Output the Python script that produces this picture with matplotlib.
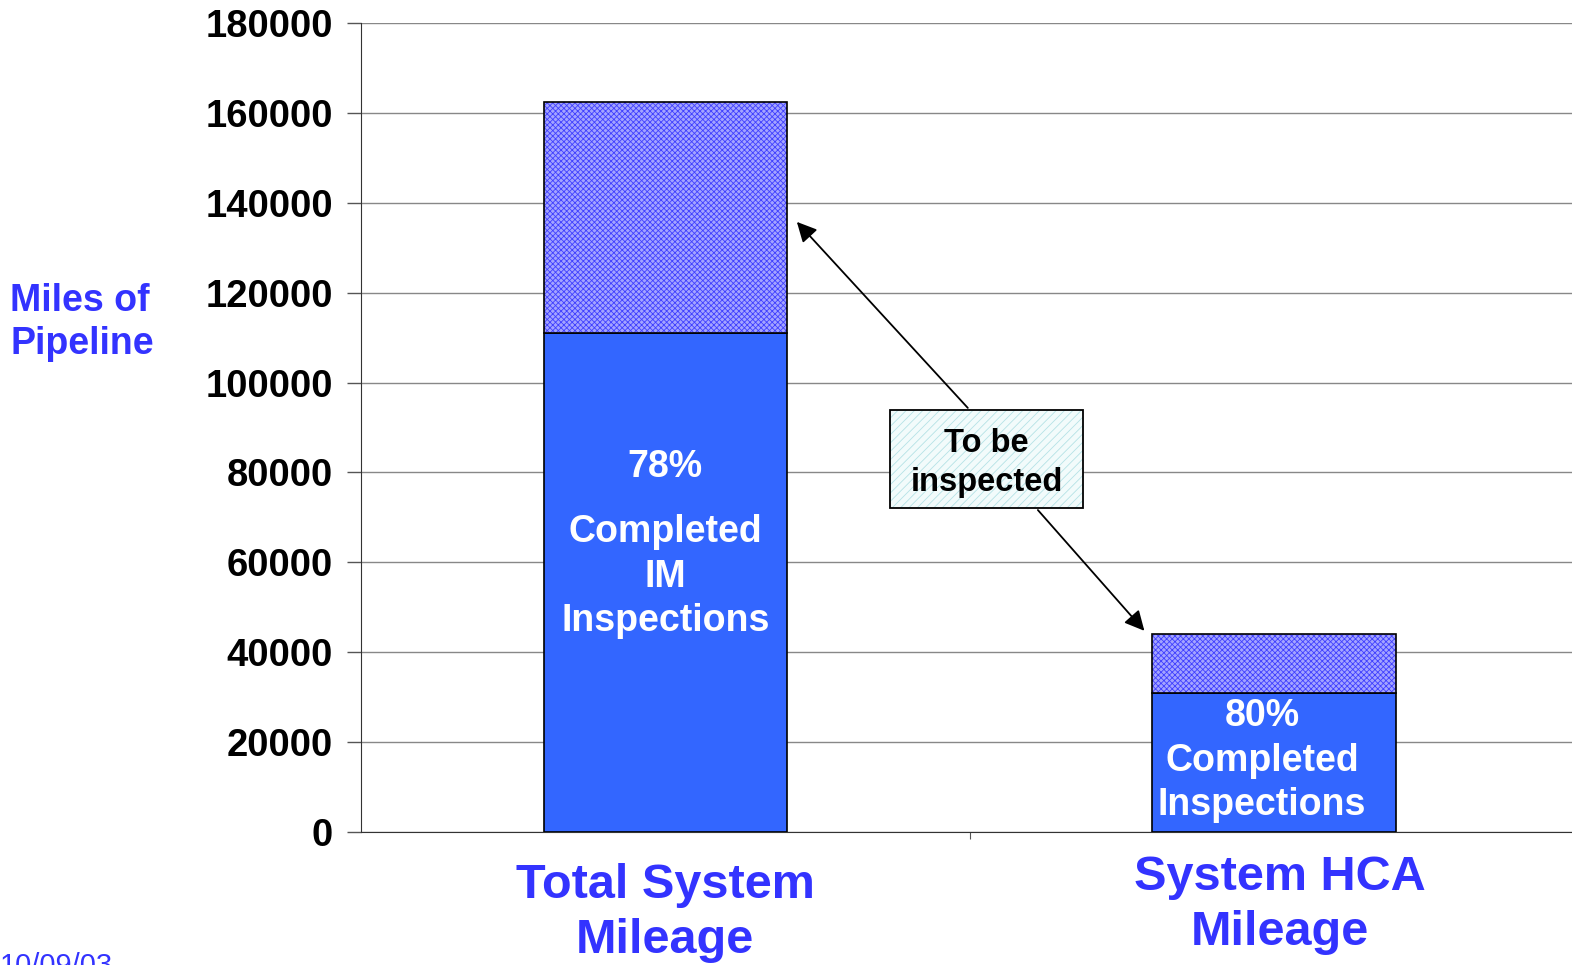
import matplotlib.pyplot as plt
import matplotlib.transforms as mtransforms
from matplotlib.patches import Rectangle

plt.rcParams['font.family'] = ['Liberation Sans', 'DejaVu Sans']
plt.rcParams['hatch.linewidth'] = 0.6

# data
categories = ['Total System\nMileage', 'System HCA\nMileage']
completed = [111000, 31000]
to_inspect = [51500, 13000]
pct_labels = ['78%', '80%']
inside_labels = ['Completed\nIM\nInspections', 'Completed\nInspections']
yticks = [0, 20000, 40000, 60000, 80000, 100000, 120000, 140000, 160000, 180000]

blue = '#3366FF'
txt_blue = '#3333FF'

fig = plt.figure(figsize=(15.72, 9.65), dpi=100)
ax = fig.add_axes([0.2296, 0.1378, 0.7745, 0.8384])

x = [0, 1]
ax.bar(x, completed, width=0.4, color=blue, edgecolor='black', linewidth=1.2, zorder=3)
ax.bar(x, to_inspect, width=0.4, bottom=completed, color='#a4a4ff', edgecolor='#4040ff',
       hatch='xxxxxx', linewidth=0, zorder=3)
ax.bar(x, to_inspect, width=0.4, bottom=completed, fill=False, edgecolor='black',
       linewidth=1.2, zorder=4)

ax.set_xlim(-0.5, 1.5)
ax.set_ylim(0, 180000)
ax.set_yticks(yticks)
ax.set_yticklabels([str(v) for v in yticks], fontsize=27.5, fontweight='bold')
ax.tick_params(axis='y', direction='out', length=10, width=1, pad=10, color='#555555')
ax.set_xticks([0.5])
ax.set_xticklabels([''])
ax.tick_params(axis='x', direction='out', length=5, color='#555555')
ax.yaxis.grid(True, color='#888888', linewidth=1, zorder=0)
ax.set_axisbelow(True)
for s in ['top', 'right']:
    ax.spines[s].set_visible(False)
ax.spines['left'].set_color('#333333')
ax.spines['bottom'].set_color('#333333')

# text inside bars
ax.text(0, 81200, pct_labels[0], ha='center', va='center', color='white',
        fontsize=27, fontweight='bold', zorder=5)
ax.text(0, 56800, inside_labels[0], ha='center', va='center', color='white',
        fontsize=27, fontweight='bold', linespacing=1.3, zorder=5)
ax.text(0.98, 15900, pct_labels[1] + '\n' + inside_labels[1], ha='center', va='center',
        color='white', fontsize=27, fontweight='bold', linespacing=1.3, zorder=5)

# category labels under the axis
trans = mtransforms.blended_transform_factory(ax.transData, ax.transAxes)
ax.text(0, -0.038, categories[0], transform=trans, ha='center', va='top', color=txt_blue,
        fontsize=35, fontweight='bold', linespacing=1.3)
ax.text(1.01, -0.028, categories[1], transform=trans, ha='center', va='top', color=txt_blue,
        fontsize=35, fontweight='bold', linespacing=1.3)

# y label
fig.text(0.0065, 0.666, 'Miles of\nPipeline', ha='left', va='center', color=txt_blue,
         fontsize=27, fontweight='bold', linespacing=1.25)

# callout box and arrows
ax.annotate('', xy=(0.213, 136200), xytext=(0.5, 93900),
            arrowprops=dict(arrowstyle='-|>', color='black', lw=1.3, mutation_scale=30), zorder=6)
ax.annotate('', xy=(0.79, 44300), xytext=(0.609, 72100),
            arrowprops=dict(arrowstyle='-|>', color='black', lw=1.3, mutation_scale=30), zorder=6)
ax.add_patch(Rectangle((0.3696, 72100), 0.3169, 21800, facecolor='#f2fbfb',
                       edgecolor='#b5e2e6', hatch='////', linewidth=0, zorder=6))
ax.add_patch(Rectangle((0.3696, 72100), 0.3169, 21800, fill=False,
                       edgecolor='black', linewidth=1.3, zorder=7))
ax.text(0.528, 82100, 'To be\ninspected', ha='center', va='center', fontsize=23.5,
        fontweight='bold', color='black', linespacing=1.3, zorder=8)

# date in the corner
fig.text(0.0, 0.0135, '10/09/03', ha='left', va='top', color=txt_blue, fontsize=21)

fig.savefig('out.png', dpi=100)
